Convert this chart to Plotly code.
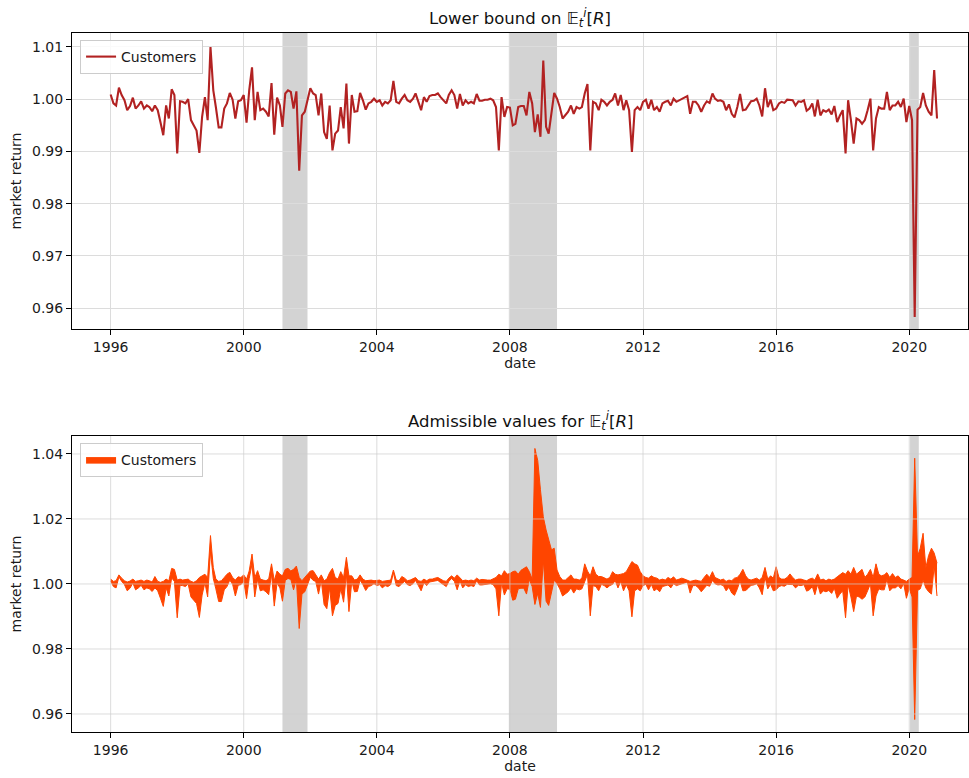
import pandas as pd
import plotly.graph_objects as go

# ---------------- data ----------------
start_month = "1996-01-01"

lower_bound = [
    # 1996
    1.0009, 0.9992, 0.9988, 1.0022, 1.0008, 0.9998, 0.9979, 0.9987, 1.0003, 0.9982, 0.9988, 0.9996,
    # 1997
    0.9982, 0.9988, 0.9985, 0.9977, 0.9988, 0.9979, 0.9956, 0.9931, 0.9988, 0.9963, 1.0019, 1.0008,
    # 1998
    0.9896, 0.9996, 0.9995, 0.9992, 1.0000, 0.9960, 0.9950, 0.9940, 0.9897, 0.9966, 1.0004, 0.9960,
    # 1999
    1.0100, 1.0017, 0.9985, 0.9946, 0.9946, 0.9982, 0.9992, 1.0012, 0.9999, 0.9963, 0.9996, 0.9998,
    # 2000
    1.0008, 0.9955, 1.0017, 1.0061, 0.9960, 1.0014, 0.9979, 0.9982, 0.9976, 0.9967, 1.0031, 0.9932,
    # 2001
    1.0003, 0.9988, 0.9947, 1.0011, 1.0017, 1.0014, 0.9982, 1.0015, 0.9863, 0.9969, 0.9976, 0.9998,
    # 2002
    1.0021, 1.0011, 1.0008, 0.9969, 1.0011, 0.9937, 0.9924, 0.9988, 0.9902, 0.9934, 0.9940, 0.9985,
    # 2003
    0.9944, 1.0030, 0.9915, 1.0008, 0.9976, 0.9977, 1.0012, 0.9998, 0.9980, 0.9992, 0.9995, 1.0001,
    # 2004
    0.9995, 0.9998, 0.9988, 0.9995, 0.9992, 0.9998, 1.0035, 0.9995, 0.9992, 1.0001, 1.0008, 0.9998,
    # 2005
    0.9995, 1.0001, 1.0011, 0.9995, 0.9979, 1.0004, 0.9995, 1.0006, 1.0008, 1.0008, 1.0011, 1.0004,
    # 2006
    0.9998, 0.9992, 1.0008, 1.0017, 1.0008, 0.9982, 1.0010, 0.9988, 0.9998, 0.9992, 0.9995, 0.9992,
    # 2007
    1.0010, 0.9997, 0.9997, 0.9999, 0.9999, 1.0001, 0.9998, 0.9985, 0.9902, 1.0004, 0.9966, 0.9985,
    # 2008
    0.9984, 0.9950, 0.9953, 0.9985, 0.9987, 0.9987, 0.9969, 1.0014, 0.9992, 0.9937, 0.9971, 0.9928,
    # 2009
    1.0074, 0.9947, 0.9934, 0.9976, 1.0012, 1.0001, 0.9985, 0.9963, 0.9969, 0.9976, 0.9988, 0.9972,
    # 2010
    0.9985, 0.9982, 0.9985, 1.0011, 1.0029, 0.9902, 0.9995, 0.9992, 0.9979, 0.9999, 0.9995, 0.9988,
    # 2011
    0.9995, 0.9999, 1.0011, 0.9988, 1.0008, 0.9979, 0.9998, 0.9979, 0.9899, 0.9979, 0.9985, 0.9979,
    # 2012
    0.9995, 0.9999, 0.9982, 0.9999, 0.9979, 0.9985, 0.9976, 0.9992, 0.9995, 0.9997, 0.9988, 1.0001,
    # 2013
    0.9995, 0.9998, 1.0001, 1.0003, 1.0006, 0.9972, 0.9995, 0.9995, 0.9988, 0.9976, 0.9988, 0.9996,
    # 2014
    0.9993, 1.0011, 1.0001, 0.9997, 0.9998, 0.9995, 0.9979, 0.9990, 0.9972, 0.9965, 0.9985, 1.0010,
    # 2015
    0.9979, 0.9980, 0.9987, 0.9996, 0.9997, 1.0001, 0.9988, 0.9967, 1.0021, 0.9985, 0.9999, 0.9979,
    # 2016
    0.9982, 0.9992, 0.9995, 0.9993, 0.9999, 0.9999, 0.9998, 0.9988, 0.9996, 0.9995, 0.9998, 0.9978,
    # 2017
    0.9982, 0.9992, 0.9967, 0.9999, 0.9969, 0.9979, 0.9976, 0.9980, 0.9971, 0.9987, 0.9956, 0.9969,
    # 2018
    0.9979, 0.9896, 0.9998, 0.9960, 0.9915, 0.9963, 0.9960, 0.9953, 0.9960, 0.9979, 1.0001, 0.9902,
    # 2019
    0.9963, 0.9985, 0.9982, 0.9982, 1.0014, 0.9979, 0.9988, 0.9988, 0.9995, 0.9985, 1.0001, 0.9956,
    # 2020
    0.9987, 0.9960, 0.9583, 0.9980, 0.9985, 1.0012, 0.9988, 0.9976, 0.9969, 1.0056, 0.9963,
]

upper_bound = [
    # 1996
    1.0015, 1.0008, 1.0010, 1.0028, 1.0018, 1.0010, 1.0006, 1.0009, 1.0015, 1.0008, 1.0010, 1.0012,
    # 1997
    1.0008, 1.0012, 1.0010, 1.0006, 1.0023, 1.0008, 1.0005, 1.0008, 1.0015, 1.0010, 1.0048, 1.0045,
    # 1998
    1.0012, 1.0015, 1.0012, 1.0014, 1.0015, 1.0008, 1.0005, 1.0010, 1.0020, 1.0025, 1.0030, 1.0020,
    # 1999
    1.0149, 1.0050, 1.0015, 1.0008, 1.0010, 1.0020, 1.0030, 1.0036, 1.0020, 1.0012, 1.0022, 1.0020,
    # 2000
    1.0028, 1.0015, 1.0040, 1.0092, 1.0020, 1.0041, 1.0015, 1.0012, 1.0010, 1.0015, 1.0062, 1.0010,
    # 2001
    1.0040, 1.0030, 1.0025, 1.0045, 1.0048, 1.0040, 1.0045, 1.0055, 1.0020, 1.0010, 1.0020, 1.0032,
    # 2002
    1.0040, 1.0041, 1.0030, 1.0015, 1.0028, 1.0010, 1.0015, 1.0035, 1.0048, 1.0020, 1.0015, 1.0038,
    # 2003
    1.0020, 1.0082, 1.0025, 1.0025, 1.0012, 1.0015, 1.0028, 1.0015, 1.0010, 1.0012, 1.0012, 1.0010,
    # 2004
    1.0010, 1.0012, 1.0008, 1.0010, 1.0010, 1.0012, 1.0043, 1.0012, 1.0010, 1.0023, 1.0018, 1.0010,
    # 2005
    1.0012, 1.0015, 1.0020, 1.0010, 1.0008, 1.0015, 1.0010, 1.0015, 1.0015, 1.0018, 1.0020, 1.0015,
    # 2006
    1.0010, 1.0008, 1.0018, 1.0025, 1.0018, 1.0028, 1.0018, 1.0010, 1.0012, 1.0010, 1.0012, 1.0010,
    # 2007
    1.0018, 1.0012, 1.0014, 1.0012, 1.0012, 1.0012, 1.0015, 1.0020, 1.0030, 1.0025, 1.0041, 1.0030,
    # 2008
    1.0032, 1.0038, 1.0040, 1.0030, 1.0042, 1.0048, 1.0053, 1.0038, 1.0015, 1.0417, 1.0380, 1.0290,
    # 2009
    1.0207, 1.0166, 1.0140, 1.0105, 1.0110, 1.0043, 1.0023, 1.0012, 1.0012, 1.0020, 1.0028, 1.0015,
    # 2010
    1.0015, 1.0012, 1.0018, 1.0062, 1.0040, 1.0025, 1.0053, 1.0030, 1.0023, 1.0023, 1.0020, 1.0015,
    # 2011
    1.0020, 1.0038, 1.0030, 1.0028, 1.0030, 1.0032, 1.0038, 1.0055, 1.0069, 1.0062, 1.0058, 1.0038,
    # 2012
    1.0025, 1.0020, 1.0018, 1.0025, 1.0020, 1.0018, 1.0012, 1.0015, 1.0012, 1.0020, 1.0015, 1.0022,
    # 2013
    1.0012, 1.0015, 1.0018, 1.0015, 1.0012, 1.0008, 1.0010, 1.0012, 1.0010, 1.0008, 1.0020, 1.0030,
    # 2014
    1.0020, 1.0038, 1.0020, 1.0015, 1.0012, 1.0015, 1.0008, 1.0012, 1.0010, 1.0018, 1.0020, 1.0030,
    # 2015
    1.0045, 1.0025, 1.0015, 1.0012, 1.0015, 1.0018, 1.0012, 1.0020, 1.0051, 1.0015, 1.0025, 1.0018,
    # 2016
    1.0053, 1.0020, 1.0015, 1.0015, 1.0020, 1.0031, 1.0020, 1.0012, 1.0015, 1.0015, 1.0012, 1.0010,
    # 2017
    1.0015, 1.0018, 1.0012, 1.0031, 1.0012, 1.0015, 1.0010, 1.0015, 1.0012, 1.0015, 1.0022, 1.0028,
    # 2018
    1.0035, 1.0030, 1.0041, 1.0030, 1.0051, 1.0030, 1.0038, 1.0045, 1.0020, 1.0030, 1.0045, 1.0020,
    # 2019
    1.0062, 1.0030, 1.0025, 1.0028, 1.0035, 1.0020, 1.0032, 1.0020, 1.0025, 1.0015, 1.0012, 1.0008,
    # 2020
    1.0015, 1.0020, 1.0387, 1.0085, 1.0110, 1.0156, 1.0050, 1.0088, 1.0110, 1.0095, 1.0064,
]

recession_starts = ["2001-03-01", "2007-12-20", "2020-01-10"]
recession_ends = ["2001-12-01", "2009-06-01", "2020-04-15"]

year_tick_values = ["1996-01-01", "2000-01-01", "2004-01-01", "2008-01-01",
                    "2012-01-01", "2016-01-01", "2020-01-01"]
year_tick_labels = ["1996", "2000", "2004", "2008", "2012", "2016", "2020"]
top_y_ticks = [0.96, 0.97, 0.98, 0.99, 1.00, 1.01]
bottom_y_ticks = [0.96, 0.98, 1.00, 1.02, 1.04]

series_name = "Customers"
top_title = "Lower bound on 𝔼<sub><i>t</i></sub><sup><i>i</i></sup>[<i>R</i>]"
bottom_title = "Admissible values for 𝔼<sub><i>t</i></sub><sup><i>i</i></sup>[<i>R</i>]"

# ---------------- figure ----------------
dates = pd.date_range(start_month, periods=len(lower_bound), freq="MS")

LINE_RED = "#b22222"
FILL_ORANGE = "#ff4500"
SHADE = "#d3d3d3"
GRID = "#dcdcdc"
FONT = "DejaVu Sans, Verdana, sans-serif"
TXT = "#1a1a1a"

fig = go.Figure()

fig.add_trace(go.Scatter(
    x=dates, y=lower_bound, mode="lines", name=series_name,
    line=dict(color=LINE_RED, width=2.1), xaxis="x", yaxis="y", legend="legend",
))

fig.add_trace(go.Scatter(
    x=dates, y=lower_bound, mode="lines", showlegend=False,
    line=dict(color=FILL_ORANGE, width=1), xaxis="x2", yaxis="y2", hoverinfo="skip",
))
fig.add_trace(go.Scatter(
    x=dates, y=upper_bound, mode="lines", name=series_name, fill="tonexty",
    fillcolor=FILL_ORANGE, line=dict(color=FILL_ORANGE, width=1),
    xaxis="x2", yaxis="y2", legend="legend2",
))

axis_common = dict(
    showline=True, linecolor="black", linewidth=1, mirror=True,
    ticks="outside", ticklen=5, tickwidth=1, tickcolor="black",
    tickfont=dict(size=14, color=TXT, family=FONT),
    zeroline=False,
)
x_range = ["1994-11-03", "2021-10-07"]

fig.update_layout(
    width=969, height=778,
    margin=dict(l=72, r=1, t=33, b=46),
    paper_bgcolor="white", plot_bgcolor="white",
    font=dict(family=FONT, size=14, color=TXT),
    xaxis=dict(domain=[0, 1], anchor="y", range=x_range, tickvals=year_tick_values,
               ticktext=year_tick_labels, showgrid=True, gridcolor=GRID, gridwidth=1,
               title=dict(text="date", font=dict(size=14), standoff=3), **axis_common),
    yaxis=dict(domain=[0.5765, 1], anchor="x", range=[0.95598, 1.01268],
               tickvals=top_y_ticks, tickformat=".2f", showgrid=True, gridcolor=GRID,
               gridwidth=1, title=dict(text="market return", font=dict(size=14), standoff=7),
               **axis_common),
    xaxis2=dict(domain=[0, 1], anchor="y2", range=x_range, tickvals=year_tick_values,
                ticktext=year_tick_labels, showgrid=False,
                title=dict(text="date", font=dict(size=14), standoff=3), **axis_common),
    yaxis2=dict(domain=[0, 0.4235], anchor="x2", range=[0.95446, 1.04554],
                tickvals=bottom_y_ticks, tickformat=".2f", showgrid=False,
                title=dict(text="market return", font=dict(size=14), standoff=7),
                **axis_common),
    legend=dict(x=0.009, y=0.99, xanchor="left", yanchor="top",
                bgcolor="rgba(255,255,255,0.85)", bordercolor="#cccccc", borderwidth=1,
                font=dict(size=14, family=FONT), tracegroupgap=0, itemwidth=30),
    legend2=dict(x=0.009, y=0.4134, xanchor="left", yanchor="top",
                 bgcolor="rgba(255,255,255,0.85)", bordercolor="#cccccc", borderwidth=1,
                 font=dict(size=14, family=FONT), tracegroupgap=0, itemwidth=30),
    showlegend=True,
)

shapes = []
for s, e in zip(recession_starts, recession_ends):
    for xr, yr in (("x", "y domain"), ("x2", "y2 domain")):
        shapes.append(dict(type="rect", xref=xr, yref=yr, x0=s, x1=e, y0=0, y1=1,
                           fillcolor=SHADE, line=dict(width=0), layer="below"))
# bottom panel grid drawn above the filled band (as in the reference)
for v in bottom_y_ticks:
    shapes.append(dict(type="line", xref="x2 domain", yref="y2", x0=0, x1=1, y0=v, y1=v,
                       line=dict(color="rgba(205,205,205,0.7)", width=1), layer="above"))
for v in year_tick_values:
    shapes.append(dict(type="line", xref="x2", yref="y2 domain", x0=v, x1=v, y0=0, y1=1,
                       line=dict(color="rgba(205,205,205,0.7)", width=1), layer="above"))
fig.update_layout(shapes=shapes)

fig.add_annotation(text=top_title, xref="x domain", yref="y domain", x=0.5, y=1,
                   xanchor="center", yanchor="bottom", yshift=1, showarrow=False,
                   font=dict(size=16.5, family=FONT, color="#111111"))
fig.add_annotation(text=bottom_title, xref="x2 domain", yref="y2 domain", x=0.5, y=1,
                   xanchor="center", yanchor="bottom", yshift=1, showarrow=False,
                   font=dict(size=16.5, family=FONT, color="#111111"))

fig.write_html("out.html")
